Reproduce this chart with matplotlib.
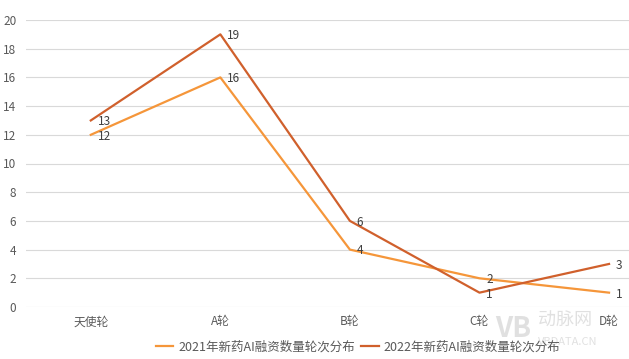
import matplotlib.pyplot as plt

plt.rcParams['font.family'] = ['Noto Sans CJK SC', 'DejaVu Sans']

rounds = ['天使轮', 'A轮', 'B轮', 'C轮', 'D轮']
s2021 = [12, 16, 4, 2, 1]
s2022 = [13, 19, 6, 1, 3]
names = ['2021年新药AI融资数量轮次分布', '2022年新药AI融资数量轮次分布']
colors = ['#F5963A', '#D0602C']

fig = plt.figure(figsize=(6.29, 3.59), dpi=100)
ax = fig.add_axes([26 / 629, 52 / 359, 1 - 26 / 629, 287 / 359])

x = list(range(len(rounds)))
for vals, name, c in zip([s2021, s2022], names, colors):
    ax.plot(x, vals, color=c, lw=1.6, label=name)
    for xi, v in zip(x, vals):
        ax.annotate(str(v), (xi, v), xytext=(5, -1), textcoords='offset points',
                    ha='left', va='center', fontsize=8.5, color='#404040')

ax.set_xlim(-0.5, 4.154)
ax.set_ylim(0, 20)
ax.set_yticks(range(0, 21, 2))
ax.set_xticks(x)
ax.set_xticklabels(rounds)
ax.grid(axis='y', color='#d9d9d9', lw=0.8)
ax.set_axisbelow(True)
for s in ax.spines.values():
    s.set_visible(False)
ax.tick_params(length=0, labelsize=8.5, colors='#595959')
ax.tick_params(axis='y', pad=7)
ax.tick_params(axis='x', pad=6)

fig.legend(loc='center', bbox_to_anchor=(358 / 629, 12 / 359), ncol=2, frameon=False,
           fontsize=9, handlelength=1.4, handletextpad=0.4, columnspacing=0.5,
           labelcolor='#595959')

# watermark
fig.text(513 / 629, 30 / 359, 'VB', fontsize=20, color='#d4d4d4', alpha=0.7,
         ha='center', va='center', fontweight='bold')
fig.text(565 / 629, 38 / 359, '动脉网', fontsize=13, color='#d4d4d4', alpha=0.7,
         ha='center', va='center')
fig.text(568 / 629, 17 / 359, 'VBDATA.CN', fontsize=8, color='#d4d4d4', alpha=0.7,
         ha='center', va='center')

fig.savefig('out.png', dpi=100)
